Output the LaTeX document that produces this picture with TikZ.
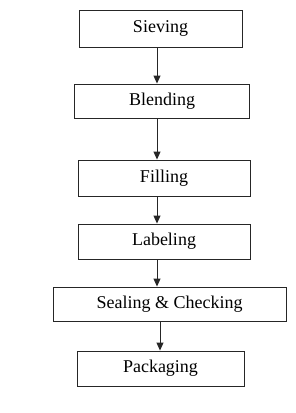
\documentclass[tikz,border=0pt]{standalone}
\usepackage{fontspec}
\setmainfont{Liberation Serif}
\usetikzlibrary{arrows.meta}
\begin{document}
\begin{tikzpicture}[x=1pt,y=-1pt,
  stepbox/.style={draw=black!85,line width=0.9pt,rectangle,inner sep=0pt,font=\fontsize{18}{20}\selectfont,text=black},
  arr/.style={draw=black!85,line width=0.9pt,-{Triangle[length=8pt,width=7pt]}}]
\useasboundingbox (0,0) rectangle (296,413);
\node[stepbox,minimum width=163pt,minimum height=37pt] (s1) at (160.5,28.5) {Sieving};
\node[stepbox,minimum width=175pt,minimum height=34pt] (s2) at (162,101) {Blending};
\node[stepbox,minimum width=172pt,minimum height=36pt] (s3) at (164,178) {Filling};
\node[stepbox,minimum width=172pt,minimum height=35pt] (s4) at (164,241.5) {Labeling};
\node[stepbox,minimum width=233pt,minimum height=34pt] (s5) at (169.5,304) {Sealing \& Checking};
\node[stepbox,minimum width=167pt,minimum height=35pt] (s6) at (160.5,368.5) {Packaging};
\coordinate (c1) at (157,0);
\coordinate (c2) at (160,0);
\draw[arr] (s1.south -| c1) -- (s2.north -| c1);
\draw[arr] (s2.south -| c1) -- (s3.north -| c1);
\draw[arr] (s3.south -| c1) -- (s4.north -| c1);
\draw[arr] (s4.south -| c1) -- (s5.north -| c1);
\draw[arr] (s5.south -| c2) -- (s6.north -| c2);
\end{tikzpicture}
\end{document}
